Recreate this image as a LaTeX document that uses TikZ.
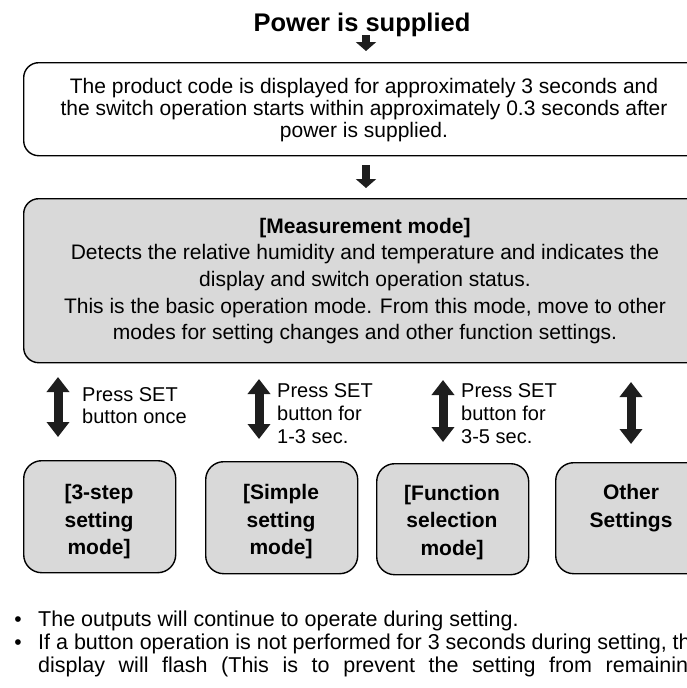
\documentclass[tikz,border=0pt]{standalone}
\usepackage{fontspec}
\setmainfont{Liberation Sans}
\usetikzlibrary{arrows.meta}
\definecolor{boxgray}{RGB}{217,217,217}
\definecolor{arrowblk}{RGB}{30,30,30}
\newcommand\myfs[1]{\fontsize{#1}{#1}\selectfont}
\tikzset{
  txt/.style={inner sep=0pt, anchor=base, font=\myfs{21}},
  btxt/.style={inner sep=0pt, anchor=base, font=\myfs{21}\bfseries},
  ltxt/.style={inner sep=0pt, anchor=base west, font=\myfs{20}},
  ptxt/.style={inner sep=0pt, anchor=base west, font=\myfs{21.5}},
  rbox/.style={draw=black, line width=1.4pt, rounded corners=15pt, inner sep=0pt, anchor=north west},
  gbox/.style={rbox, fill=boxgray},
  sarrow/.style={line width=8pt, draw=arrowblk, -{Triangle[width=20pt,length=9pt]}},
  darrow/.style={line width=9pt, draw=arrowblk, {Triangle[width=22pt,length=15pt]}-{Triangle[width=22pt,length=15pt]}}
}
\begin{document}
\begin{tikzpicture}[x=1pt,y=-1pt]
\useasboundingbox (0,0) rectangle (687,688);
\clip (0,0) rectangle (687,688);
% title
\node[inner sep=0pt, anchor=base, font=\myfs{25.5}\bfseries] (title) at (362,31) {Power is supplied};
% top box
\node[rbox, minimum width=682pt, minimum height=93pt] (top) at (23,62) {};
\node[txt] (t1) at (364,93) {The product code is displayed for approximately 3 seconds and};
\node[txt] (t2) at (364,115) {the switch operation starts within approximately 0.3 seconds after};
\node[txt] (t3) at (364,137) {power is supplied.};
% measurement box
\node[gbox, minimum width=682pt, minimum height=164pt] (meas) at (23,198) {};
\node[btxt] (m1) at (365,233) {[Measurement mode]};
\node[txt] (m2) at (365,259) {Detects the relative humidity and temperature and indicates the};
\node[txt] (m3) at (365,286) {display and switch operation status.};
\node[txt] (m4) at (365,313) {This is the basic operation mode. From this mode, move to other};
\node[txt] (m5) at (365,339) {modes for setting changes and other function settings.};
% single arrows
\coordinate (a1s) at (366,35); \coordinate (a1e) at (366,51);
\coordinate (a2s) at (366,165); \coordinate (a2e) at (366,188);
\draw[sarrow] (a1s) -- (a1e);
\draw[sarrow] (a2s) -- (a2e);
% bottom boxes
\node[gbox, rounded corners=18pt, minimum width=152pt, minimum height=112pt] (b1) at (23,460) {};
\node[gbox, rounded corners=18pt, minimum width=152pt, minimum height=112pt] (b2) at (205,461) {};
\node[gbox, rounded corners=18pt, minimum width=152pt, minimum height=111pt] (b3) at (376,463) {};
\node[gbox, rounded corners=18pt, minimum width=152pt, minimum height=111pt] (b4) at (555,462) {};
\node[btxt] (b1a) at (99,499) {[3-step};
\node[btxt] (b1b) at (99,527) {setting};
\node[btxt] (b1c) at (99,554) {mode]};
\node[btxt] (b2a) at (281,499) {[Simple};
\node[btxt] (b2b) at (281,527) {setting};
\node[btxt] (b2c) at (281,554) {mode]};
\node[btxt] (b3a) at (452,500) {[Function};
\node[btxt] (b3b) at (452,527) {selection};
\node[btxt] (b3c) at (452,555) {mode]};
\node[btxt] (b4a) at (631,499) {Other};
\node[btxt] (b4b) at (631,527) {Settings};
% double arrows
\coordinate (d1s) at (58,377); \coordinate (d1e) at (58,437);
\coordinate (d2s) at (259,379); \coordinate (d2e) at (259,439);
\coordinate (d3s) at (443,380); \coordinate (d3e) at (443,442);
\coordinate (d4s) at (631,382); \coordinate (d4e) at (631,444);
\draw[darrow] (d1s) -- (d1e);
\draw[darrow] (d2s) -- (d2e);
\draw[darrow] (d3s) -- (d3e);
\draw[darrow] (d4s) -- (d4e);
% labels
\node[ltxt] (l1a) at (82,401) {Press SET};
\node[ltxt] (l1b) at (82,423) {button once};
\node[ltxt] (l2a) at (277,397) {Press SET};
\node[ltxt] (l2b) at (277,420) {button for};
\node[ltxt] (l2c) at (277,443) {1-3 sec.};
\node[ltxt] (l3a) at (461,397) {Press SET};
\node[ltxt] (l3b) at (461,420) {button for};
\node[ltxt] (l3c) at (461,443) {3-5 sec.};
% bullets
\node[txt] (bu1) at (18,626) {•};
\node[txt] (bu2) at (18,649) {•};
\node[ptxt] (p1) at (38,626) {The outputs will continue to operate during setting.};
\node[ptxt] (p2) at (38,649) {If a button operation is not performed for 3 seconds during setting, the};
\node[ptxt] (p3) at (38,672) {\makebox[662pt][s]{display will flash (This is to prevent the setting from remaining}};
\end{tikzpicture}
\end{document}
